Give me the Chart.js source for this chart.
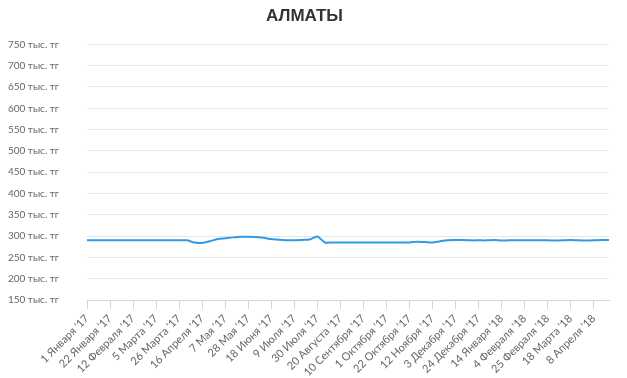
<!DOCTYPE html>
<html>
<head>
<meta charset="utf-8">
<script src="https://cdn.jsdelivr.net/npm/chart.js@4.4.0/dist/chart.umd.min.js"></script>
<style>
  html, body { margin: 0; padding: 0; background: #fff; }
  #almatyChartContainer { width: 627px; height: 378px; }
</style>
</head>
<body>
<div id="almatyChartContainer"><canvas id="almatyChart"></canvas></div>
<script>
// weekly dates, Jan 2017 - Apr 2018
const weekLabels = [
  "1 Января '17", "8 Января '17", "15 Января '17", "22 Января '17", "29 Января '17",
  "5 Февраля '17", "12 Февраля '17", "19 Февраля '17", "26 Февраля '17",
  "5 Марта '17", "12 Марта '17", "19 Марта '17", "26 Марта '17",
  "2 Апреля '17", "9 Апреля '17", "16 Апреля '17", "23 Апреля '17", "30 Апреля '17",
  "7 Мая '17", "14 Мая '17", "21 Мая '17", "28 Мая '17",
  "4 Июня '17", "11 Июня '17", "18 Июня '17", "25 Июня '17",
  "2 Июля '17", "9 Июля '17", "16 Июля '17", "23 Июля '17", "30 Июля '17",
  "6 Августа '17", "13 Августа '17", "20 Августа '17", "27 Августа '17",
  "3 Сентября '17", "10 Сентября '17", "17 Сентября '17", "24 Сентября '17",
  "1 Октября '17", "8 Октября '17", "15 Октября '17", "22 Октября '17", "29 Октября '17",
  "5 Ноября '17", "12 Ноября '17", "19 Ноября '17", "26 Ноября '17",
  "3 Декабря '17", "10 Декабря '17", "17 Декабря '17", "24 Декабря '17", "31 Декабря '17",
  "7 Января '18", "14 Января '18", "21 Января '18", "28 Января '18",
  "4 Февраля '18", "11 Февраля '18", "18 Февраля '18", "25 Февраля '18",
  "4 Марта '18", "11 Марта '18", "18 Марта '18", "25 Марта '18",
  "1 Апреля '18", "8 Апреля '18", "15 Апреля '18", "22 Апреля '18"
];

// thousand tenge
const priceValues = [
  290, 290, 290, 290, 290, 290, 290, 290, 290, 290,
  290, 290, 290, 290, 285, 284, 288, 293, 295, 297,
  298.5, 298.5, 298, 296, 293, 291.5, 290.5, 290, 291, 292,
  299, 285, 285, 285, 285, 285, 285, 285, 285, 285,
  285, 285, 285, 287, 286, 285, 288, 290.5, 291, 291,
  290, 290, 290, 291, 289.5, 290, 290, 290, 290, 290,
  290, 289.5, 290, 291, 290, 289.5, 290, 291, 291
];

const yTicks = { min: 150, max: 750, step: 50 };
const yUnit = " тыс. тг";
const labelEvery = 3;

const axisBlue = "#ccd6eb";
const fontFamily = "Lato, 'Open Sans', sans-serif";
const ctx = document.getElementById("almatyChart").getContext("2d");

new Chart(ctx, {
  type: "line",
  data: {
    labels: weekLabels,
    datasets: [
      {
        label: "Алматы",
        data: priceValues,
        borderColor: "#2f9be6",
        borderWidth: 2,
        pointRadius: 0,
        tension: 0.25,
        fill: false,
      },
    ],
  },
  options: {
    responsive: true,
    maintainAspectRatio: false,
    animation: false,
    layout: { padding: { left: 0, right: 18, top: 0, bottom: 0 } },
    plugins: {
      legend: { display: false },
      tooltip: { enabled: false },
      title: {
        display: true,
        text: "АЛМАТЫ",
        color: "#333333",
        font: { family: "'Liberation Sans', Arial, sans-serif", size: 17, weight: "bold" },
        padding: { top: 6, bottom: 18 },
      },
    },
    scales: {
      x: {
        offset: false,
        border: { color: axisBlue },
        grid: {
          drawOnChartArea: false,
          tickLength: 9,
          color: (c) => (c.index % labelEvery === 0 ? axisBlue : "rgba(0,0,0,0)"),
        },
        ticks: {
          autoSkip: false,
          minRotation: 45,
          maxRotation: 45,
          color: "#666666",
          font: { family: fontFamily, size: 11 },
          callback: function (v, i) {
            return i % labelEvery === 0 ? this.getLabelForValue(v) : "";
          },
        },
        afterFit: (scale) => {
          scale.paddingLeft = 0;
          scale.height = 78;
        },
      },
      y: {
        min: yTicks.min,
        max: yTicks.max,
        border: { display: false },
        grid: { color: "#e6e6e6", drawTicks: false },
        ticks: {
          stepSize: yTicks.step,
          padding: 28,
          color: "#666666",
          font: { family: fontFamily, size: 10 },
          callback: (v) => v + yUnit,
        },
        afterFit: (scale) => {
          scale.width = 87;
        },
      },
    },
  },
});
</script>
</body>
</html>
